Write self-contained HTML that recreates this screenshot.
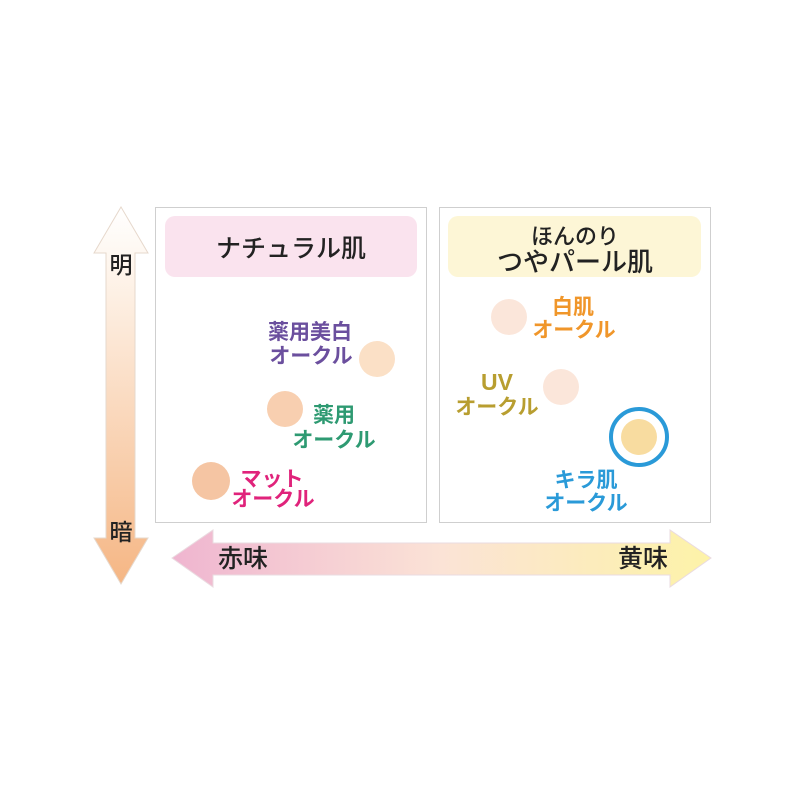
<!DOCTYPE html>
<html><head><meta charset="utf-8"><style>
html,body{margin:0;padding:0;background:#fff;}
svg{display:block;}
text{font-family:"Liberation Sans","Noto Sans CJK JP",sans-serif;}
</style></head><body>
<svg width="800" height="800" viewBox="0 0 800 800" xmlns="http://www.w3.org/2000/svg">
<defs>
<linearGradient id="gv" x1="0" y1="0" x2="0" y2="1">
<stop offset="0" stop-color="#ffffff"/><stop offset="0.15" stop-color="#fef6ee"/><stop offset="1" stop-color="#f5b684"/>
</linearGradient>
<linearGradient id="gh" x1="0" y1="0" x2="1" y2="0">
<stop offset="0" stop-color="#efb5d0"/><stop offset="0.5" stop-color="#fbe3d6"/><stop offset="1" stop-color="#fdf3a8"/>
</linearGradient>
</defs>
<rect width="800" height="800" fill="#fff"/>
<polygon points="121,207 148,253 135,253 135,538 148,538 121,584 94,538 106,538 106,253 94,253" fill="url(#gv)" stroke="#e6d8cc" stroke-width="1"/>
<text x="121" y="273" font-size="23" font-weight="500" text-anchor="middle" fill="#222">明</text>
<text x="121" y="540" font-size="23" font-weight="500" text-anchor="middle" fill="#222">暗</text>
<polygon points="172,558 213,530 213,543 670,543 670,530 711,558 670,587 670,575 213,575 213,587" fill="url(#gh)" stroke="#eadbe0" stroke-width="1"/>
<text x="243" y="567" font-size="25" font-weight="500" text-anchor="middle" fill="#222">赤味</text>
<text x="643" y="567" font-size="25" font-weight="500" text-anchor="middle" fill="#222">黄味</text>
<rect x="155.5" y="207.5" width="271" height="315" fill="#fff" stroke="#cfcfcf"/>
<rect x="439.5" y="207.5" width="271" height="315" fill="#fff" stroke="#cfcfcf"/>
<rect x="165" y="216" width="252" height="61" rx="10" fill="#fae3ee"/>
<rect x="448" y="216" width="253" height="61" rx="10" fill="#fdf6d6"/>
<text x="291" y="257" font-size="25" font-weight="500" text-anchor="middle" fill="#222">ナチュラル肌</text>
<text x="575" y="244" font-size="22" font-weight="500" text-anchor="middle" fill="#222">ほんのり</text>
<text x="575" y="271" font-size="26" font-weight="500" text-anchor="middle" fill="#222">つやパール肌</text>
<circle cx="377" cy="359" r="18" fill="#fbe0c6"/>
<circle cx="285" cy="409" r="18" fill="#f8cfb0"/>
<circle cx="211" cy="481" r="19" fill="#f5c5a3"/>
<circle cx="509" cy="317" r="18" fill="#fbe6da"/>
<circle cx="561" cy="387" r="18" fill="#fbe6da"/>
<circle cx="639" cy="437" r="18" fill="#f8dca0"/>
<circle cx="639" cy="437" r="28" fill="none" stroke="#2a9ad8" stroke-width="4"/>
<g font-size="21" font-weight="bold" text-anchor="middle">
<text x="310" y="339" fill="#6b4f9e">薬用美白</text>
<text x="311" y="363" fill="#6b4f9e">オークル</text>
<text x="334" y="422" fill="#2e9a72">薬用</text>
<text x="334" y="447" fill="#2e9a72">オークル</text>
<text x="272" y="486" fill="#e0237b">マット</text>
<text x="273" y="506" fill="#e0237b">オークル</text>
<text x="573" y="314" fill="#f0962a">白肌</text>
<text x="574" y="337" fill="#f0962a">オークル</text>
<text x="497" y="390" font-size="23" fill="#b89e30">UV</text>
<text x="497" y="414" fill="#b89e30">オークル</text>
<text x="586" y="487" fill="#2a9ad8">キラ肌</text>
<text x="586" y="510" fill="#2a9ad8">オークル</text>
</g>
</svg>
</body></html>
